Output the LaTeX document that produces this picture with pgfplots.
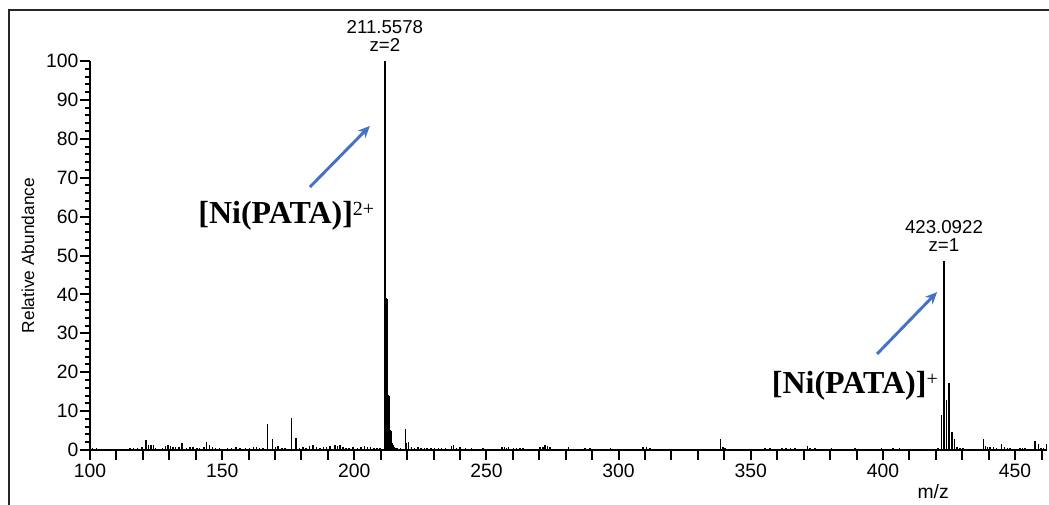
\documentclass[border=0pt]{standalone}
\usepackage{fontspec}
\setmainfont{Liberation Sans}
\newfontfamily\annfont{Liberation Serif}
\usepackage{pgfplots}
\pgfplotsset{compat=1.18}
\usetikzlibrary{arrows.meta}
\definecolor{arrowblue}{HTML}{4472C4}

\pgfplotstableread{
x y
101.0 0.5
102.5 0.4
106.8 0.3
115.2 0.5
116.5 0.6
118.0 0.5
119.6 0.8
121.1 2.5
122.2 1.4
123.0 1.3
124.0 1.2
124.8 0.6
127.5 0.5
128.6 1.0
129.5 1.3
130.4 1.1
131.3 0.9
132.4 0.7
133.6 0.8
134.8 1.8
136.5 0.5
137.8 0.9
139.0 0.7
140.4 0.6
141.5 0.5
143.2 0.8
144.1 2.1
145.2 1.2
146.3 0.9
147.5 0.5
149.0 0.4
152.0 0.5
153.6 0.6
155.3 0.7
156.8 0.5
158.9 0.4
160.3 0.6
161.8 0.7
163.0 0.8
164.2 0.6
165.4 0.5
167.2 6.7
169.0 2.8
170.2 0.8
171.2 1.0
172.6 0.6
173.8 0.4
176.3 8.1
177.9 3.0
179.3 0.6
180.6 0.9
181.8 0.6
183.0 1.0
184.4 1.2
185.7 0.7
187.0 0.6
188.3 0.8
189.5 0.7
190.8 1.0
192.7 1.4
193.6 1.1
194.6 1.2
195.7 0.7
196.8 0.5
198.0 0.6
199.5 0.9
201.2 0.5
202.6 0.8
203.8 1.0
205.0 0.7
206.2 0.9
207.4 0.6
208.6 0.5
209.8 0.4
211.5578 100
211.8 39
212.06 39.2
212.3 38.6
212.56 38.9
212.8 14.2
213.06 14
213.3 13.5
213.56 5.2
213.8 5.0
214.06 2.2
214.3 1.8
214.6 1.2
215.06 0.9
215.5 0.6
216.2 0.4
217.4 0.5
219.3 5.4
219.8 1.8
220.5 2.1
221.6 0.7
222.8 0.6
224.0 0.8
225.2 0.5
226.5 0.6
227.6 0.5
229.0 0.6
230.4 0.5
231.8 0.4
233.0 0.6
234.5 0.5
236.8 1.0
237.5 1.2
238.6 0.6
240.0 0.7
242.0 0.4
244.4 0.4
246.5 0.3
248.8 0.4
251.5 0.3
255.8 0.8
256.8 0.7
257.6 0.6
258.3 0.7
260.2 0.4
261.4 0.6
262.6 0.6
263.9 0.5
266.5 0.3
270.3 0.7
271.3 0.9
272.2 1.2
273.1 1.0
274.0 0.7
276.5 0.3
281.0 0.8
284.0 0.3
287.3 0.5
289.2 0.5
292.5 0.3
297.0 0.4
301.5 0.3
305.0 0.3
309.3 0.9
310.6 0.7
311.9 0.5
315.5 0.3
320.0 0.3
325.0 0.3
330.0 0.3
334.5 0.3
338.5 2.8
339.5 0.8
340.3 0.6
343.0 0.3
347.5 0.3
352.0 0.3
355.4 0.4
357.3 0.4
359.5 0.3
361.7 0.5
363.3 0.5
365.0 0.4
366.7 0.5
369.0 0.3
371.4 1.1
372.5 0.4
374.3 0.5
377.5 0.3
380.6 0.4
384.0 0.3
389.4 0.5
393.0 0.3
396.5 0.3
399.5 0.6
403.9 0.5
406.2 0.5
410.0 0.3
414.5 0.3
418.0 0.3
420.8 0.4
422.09 9.1
423.0922 48.6
424.09 12.9
425.09 17.1
426.09 4.7
427.09 2.7
428.1 0.9
429.1 0.5
430.3 0.4
432.0 0.3
434.5 0.3
438.0 2.9
438.8 1.0
439.6 0.9
440.5 0.8
441.8 0.7
443.0 0.5
444.9 1.6
446.0 0.7
447.2 0.6
448.0 0.5
449.5 0.3
451.9 0.5
452.8 0.5
453.8 0.4
455.5 0.3
457.5 2.4
458.8 1.5
459.8 0.6
460.8 0.5
461.9 1.6
}\spectrum

\begin{document}
\begin{tikzpicture}
\path[use as bounding box] (0,0) rectangle (786.75pt,378pt);
\draw[line width=1.5pt, color=black!85] (6.75pt,-5pt) -- (6.75pt,370.5pt) -- (795pt,370.5pt);
\begin{axis}[
  at={(67.5pt,40.5pt)}, anchor=south west,
  scale only axis, width=717.6pt, height=291.75pt,
  xmin=100, xmax=462, ymin=0, ymax=100,
  axis x line=bottom, axis y line=left,
  axis line style={-, line width=1.5pt},
  clip=false,
  xtick={100,150,...,450},
  extra x ticks={110,120,130,140,160,170,180,190,210,220,230,240,260,270,280,290,310,320,330,340,360,370,380,390,410,420,430,440,460},
  extra x tick labels={},
  ytick={0,10,...,100}, minor y tick num=4,
  tick align=outside,
  major tick length=7.5pt, minor tick length=3.75pt,
  tick style={line width=1.5pt, black},
  /pgf/number format/assume math mode=true,
  ticklabel style={font=\fontsize{14.5}{16}\selectfont},
  yticklabel style={inner xsep=1pt},
  xticklabel style={inner ysep=3pt},
]
\addplot[ycomb, mark=none, black, line width=1.2pt] table[x=x, y=y] {\spectrum};

\node[anchor=base, inner sep=0pt, font=\fontsize{14}{16}\selectfont] at (axis cs:211.5578,100) [yshift=6.75pt] {z=2};
\node[anchor=base, inner sep=0pt, font=\fontsize{14}{16}\selectfont] at (axis cs:211.5578,100) [yshift=20.5pt] {211.5578};
\node[anchor=base, inner sep=0pt, font=\fontsize{14}{16}\selectfont] at (axis cs:423.0922,48.6) [yshift=6.75pt] {z=1};
\node[anchor=base, inner sep=0pt, font=\fontsize{14}{16}\selectfont] at (axis cs:423.0922,48.6) [yshift=20.5pt] {423.0922};

\node[rotate=90, anchor=center, font=\fontsize{13}{15}\selectfont] at ([xshift=-46.5pt]axis cs:100,50) {Relative Abundance};
\node[anchor=base, font=\fontsize{14.5}{16}\selectfont] at (axis cs:419,0) [yshift=-36pt] {m/z};

\node[anchor=base west, inner sep=0pt, font=\annfont\bfseries\fontsize{24}{28}\selectfont] at (axis cs:140.9,58.1) {[Ni(PATA)]\raisebox{6.5pt}{\normalfont\annfont\fontsize{15}{15}\selectfont 2+}};
\node[anchor=base west, inner sep=0pt, font=\annfont\bfseries\fontsize{24}{28}\selectfont] at (axis cs:357.9,14.4) {[Ni(PATA)]\raisebox{6.5pt}{\normalfont\annfont\fontsize{15}{15}\selectfont +}};

\draw[arrowblue, line width=2.2pt, -{Stealth[length=9pt, width=8pt]}] (axis cs:183.2,67.6) -- (axis cs:205.9,83.3);
\draw[arrowblue, line width=2.2pt, -{Stealth[length=9pt, width=8pt]}] (axis cs:397.8,24.7) -- (axis cs:420.5,40.6);
\end{axis}
\end{tikzpicture}
\end{document}
